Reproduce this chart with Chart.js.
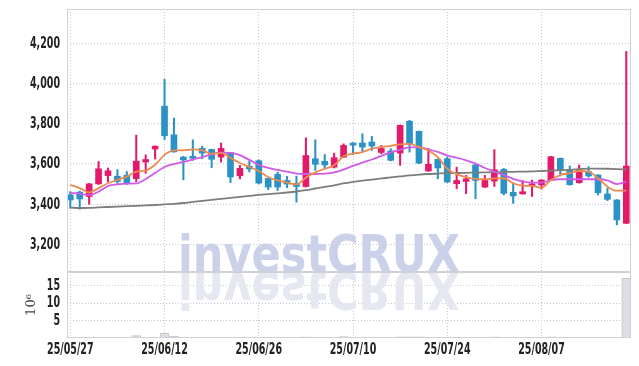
<!DOCTYPE html>
<html>
<head>
<meta charset="utf-8">
<script src="https://cdn.jsdelivr.net/npm/chart.js@4.4.1/dist/chart.umd.min.js"></script>
<style>
    html, body { margin: 0; padding: 0; background: #fff; }
    #wrap { position: relative; width: 639px; height: 366px; overflow: hidden; }
    canvas { position: absolute; left: 0; }
    #main { top: 0; width: 639px; height: 273px; }
    #vol { top: 272px; width: 639px; height: 94px; }
</style>
</head>
<body>
<div id="wrap">
    <canvas id="main" width="639" height="273"></canvas>
    <canvas id="vol" width="639" height="94"></canvas>
</div>
<script>
// 거래일 (25/05/27 ~ 25/08/21)
const dates = [
    '25/05/27','25/05/28','25/05/29','25/05/30','25/06/02','25/06/04','25/06/05','25/06/09','25/06/10','25/06/11',
    '25/06/12','25/06/13','25/06/16','25/06/17','25/06/18','25/06/19','25/06/20','25/06/23','25/06/24','25/06/25',
    '25/06/26','25/06/27','25/06/30','25/07/01','25/07/02','25/07/03','25/07/04','25/07/07','25/07/08','25/07/09',
    '25/07/10','25/07/11','25/07/14','25/07/15','25/07/16','25/07/17','25/07/18','25/07/21','25/07/22','25/07/23',
    '25/07/24','25/07/25','25/07/28','25/07/29','25/07/30','25/07/31','25/08/01','25/08/04','25/08/05','25/08/06',
    '25/08/07','25/08/08','25/08/11','25/08/12','25/08/13','25/08/14','25/08/18','25/08/19','25/08/20','25/08/21'
];

const opens = [
    3446, 3460, 3438, 3501, 3542, 3539, 3544, 3527, 3610, 3674,
    3887, 3745, 3634, 3638, 3677, 3672, 3634, 3656, 3541, 3588,
    3616, 3528, 3548, 3518, 3504, 3488, 3626, 3613, 3584, 3634,
    3704, 3704, 3709, 3657, 3664, 3654, 3812, 3762, 3565, 3623,
    3626, 3502, 3513, 3595, 3485, 3515, 3573, 3459, 3451, 3491,
    3496, 3520, 3628, 3570, 3507, 3562, 3545, 3451, 3421, 3305
];
const highs = [
    3463, 3465, 3503, 3612, 3580, 3572, 3562, 3743, 3645, 3690,
    4020, 3828, 3638, 3720, 3688, 3674, 3704, 3658, 3593, 3614,
    3620, 3530, 3560, 3538, 3540, 3730, 3720, 3647, 3654, 3700,
    3706, 3750, 3737, 3692, 3676, 3794, 3817, 3764, 3676, 3625,
    3635, 3584, 3543, 3601, 3543, 3671, 3578, 3507, 3517, 3520,
    3522, 3638, 3630, 3590, 3595, 3587, 3547, 3479, 3423, 4159
];
const lows = [
    3380, 3375, 3400, 3498, 3512, 3503, 3498, 3511, 3553, 3624,
    3721, 3658, 3521, 3618, 3626, 3581, 3609, 3507, 3526, 3560,
    3500, 3472, 3468, 3482, 3410, 3485, 3568, 3576, 3580, 3631,
    3647, 3659, 3667, 3651, 3615, 3593, 3659, 3601, 3563, 3526,
    3508, 3477, 3452, 3427, 3483, 3488, 3446, 3404, 3450, 3438,
    3476, 3518, 3540, 3494, 3504, 3534, 3446, 3418, 3297, 3303
];
const closes = [
    3421, 3426, 3501, 3576, 3566, 3513, 3503, 3614, 3622, 3688,
    3740, 3660, 3620, 3628, 3654, 3623, 3677, 3535, 3578, 3575,
    3505, 3485, 3485, 3500, 3488, 3642, 3598, 3595, 3631, 3692,
    3693, 3684, 3689, 3677, 3618, 3792, 3700, 3604, 3598, 3580,
    3510, 3518, 3526, 3518, 3518, 3571, 3454, 3441, 3462, 3501,
    3520, 3636, 3570, 3497, 3570, 3540, 3457, 3424, 3322, 3590
];

// 이동평균선
const ma5 = [
    3496, 3480, 3458, 3480, 3504, 3521, 3537, 3562, 3567, 3596,
    3645, 3667, 3668, 3672, 3668, 3650, 3655, 3630, 3605, 3585,
    3565, 3535, 3518, 3508, 3498, 3532, 3558, 3576, 3593, 3638,
    3651, 3659, 3676, 3684, 3690, 3697, 3700, 3684, 3667, 3634,
    3576, 3548, 3535, 3526, 3524, 3528, 3529, 3504, 3492, 3491,
    3482, 3520, 3545, 3554, 3565, 3562, 3529, 3487, 3467, 3467
];
const ma20 = [
    3456, 3452, 3445, 3462, 3490, 3498, 3502, 3503, 3525, 3555,
    3585, 3600, 3610, 3622, 3634, 3648, 3656, 3655, 3644, 3620,
    3595, 3580, 3570, 3562, 3552, 3550, 3550, 3552, 3558, 3572,
    3590, 3607, 3622, 3640, 3658, 3670, 3682, 3682, 3672, 3660,
    3642, 3631, 3618, 3602, 3580, 3562, 3545, 3526, 3513, 3507,
    3507, 3520, 3524, 3524, 3524, 3524, 3524, 3518, 3500, 3512
];
const ma120 = [
    3383, 3381, 3382, 3384, 3386, 3388, 3390, 3392, 3394, 3396,
    3399, 3402, 3406, 3411, 3416, 3421, 3426, 3431, 3436, 3441,
    3446, 3450, 3454, 3458, 3463, 3470, 3478, 3486, 3494, 3503,
    3511, 3517, 3522, 3528, 3533, 3538, 3543, 3547, 3550, 3552,
    3554, 3555, 3556, 3557, 3558, 3559, 3560, 3561, 3562, 3563,
    3565, 3567, 3569, 3571, 3574, 3577, 3577, 3576, 3574, 3573
];

// 거래량 (백만 주)
const volumes = [
    0.06, 0.05, 0.07, 0.08, 0.06, 0.05, 0.07, 0.7, 0.08, 0.1,
    1.4, 0.5, 0.08, 0.06, 0.07, 0.05, 0.06, 0.07, 0.05, 0.06,
    0.05, 0.06, 0.07, 0.08, 0.06, 0.3, 0.08, 0.06, 0.07, 0.4,
    0.08, 0.06, 0.07, 0.05, 0.06, 0.3, 0.35, 0.3, 0.07, 0.06,
    0.05, 0.06, 0.07, 0.06, 0.05, 0.3, 0.07, 0.06, 0.05, 0.06,
    0.07, 0.3, 0.06, 0.05, 0.07, 0.06, 0.05, 0.06, 0.08, 17.1
];

const priceTicks = [3200, 3400, 3600, 3800, 4000, 4200];
const volTicks = [5, 10, 15];
const dateTicks = [0, 10, 20, 30, 40, 50];

const UP = '#e3196c';
const DOWN = '#2a92c6';
const GRID = '#c3c7da';
const TICK_FONT = 'bold 15px "DejaVu Sans Condensed", "DejaVu Sans", sans-serif';
const DIGIT_W = 6.6;   // 눈금 숫자 폭(px)

const candleColor = ctx => closes[ctx.dataIndex] >= opens[ctx.dataIndex] ? UP : DOWN;

// 플롯 영역 테두리
const framePlugin = {
    id: 'frame',
    afterDraw(chart) {
        const a = chart.chartArea, g = chart.ctx;
        g.save();
        g.strokeStyle = '#cfd0d8';
        g.lineWidth = 1;
        g.strokeRect(Math.round(a.left) + 0.5, Math.round(a.top) + 0.5,
            Math.round(a.right - a.left) - 1, Math.round(a.bottom - a.top) - 1);
        g.restore();
    }
};

// 워터마크
const watermarkPlugin = {
    id: 'watermark',
    beforeDatasetsDraw(chart, args, opts) {
        const a = chart.chartArea, g = chart.ctx;
        g.save();
        g.font = 'bold 51px "DejaVu Sans", sans-serif';
        g.textBaseline = 'alphabetic';
        g.fillStyle = opts.color;
        if (opts.mirror) {
            g.translate(0, a.top);
            g.scale(1, -1);
            g.fillText('investCRUX', 178, 0, 282);
        } else {
            g.fillText('investCRUX', 178, a.bottom, 282);
        }
        g.restore();
    }
};

// 좁은 글꼴 흉내: 가로로 눌러서 눈금 글자 그리기
function narrowText(g, text, x, y, align) {
    g.save();
    g.font = TICK_FONT;
    const sx = DIGIT_W / g.measureText('0').width;
    g.translate(x, y);
    g.scale(sx, 1);
    g.textAlign = align;
    g.textBaseline = 'middle';
    g.fillStyle = '#222';
    g.fillText(text, 0, 0);
    g.restore();
}

const tickLabelPlugin = {
    id: 'tickLabels',
    afterDraw(chart, args, opts) {
        const g = chart.ctx, a = chart.chartArea;
        const ys = chart.scales.y;
        ys.ticks.forEach(t => {
            narrowText(g, opts.yFormat(t.value), a.left - 7, ys.getPixelForValue(t.value) + 0.5, 'right');
        });
        if (opts.showX) {
            const xs = chart.scales.x;
            xs.ticks.forEach(t => {
                narrowText(g, dates[t.value], xs.getPixelForValue(t.value), a.bottom + 12, 'center');
            });
        }
    }
};

function xAxis(height) {
    return {
        type: 'linear',
        min: -0.35,
        max: 59.5,
        offset: false,
        afterBuildTicks: s => { s.ticks = dateTicks.map(v => ({ value: v })); },
        ticks: { display: false },
        grid: { color: GRID, drawTicks: false, lineWidth: 1, offset: false },
        border: { display: false, dash: [1, 2] },
        afterFit: s => { s.height = height; s.paddingLeft = 0; s.paddingRight = 0; }
    };
}

function yAxisFit(s) {
    s.width = 67;
    s.paddingTop = 0;
    s.paddingBottom = 0;
}

Chart.defaults.animation = false;

new Chart(document.getElementById('main'), {
    type: 'bar',
    data: {
        datasets: [
            {
                type: 'line', label: 'MA5',
                data: ma5.map((v, i) => ({ x: i, y: v })),
                borderColor: '#ef8a4e', borderWidth: 1.8, pointRadius: 0,
                cubicInterpolationMode: 'monotone', order: 0
            },
            {
                type: 'line', label: 'MA20',
                data: ma20.map((v, i) => ({ x: i, y: v })),
                borderColor: '#cf5be6', borderWidth: 1.8, pointRadius: 0,
                cubicInterpolationMode: 'monotone', order: 0
            },
            {
                type: 'line', label: 'MA120',
                data: ma120.map((v, i) => ({ x: i, y: v })),
                borderColor: '#7d7d7d', borderWidth: 1.8, pointRadius: 0,
                cubicInterpolationMode: 'monotone', order: 0
            },
            {
                label: 'body',
                data: opens.map((o, i) => ({ x: i, y: [o, closes[i]] })),
                backgroundColor: candleColor,
                barThickness: 6, minBarLength: 1, grouped: false, order: 1
            },
            {
                label: 'wick',
                data: lows.map((l, i) => ({ x: i, y: [l, highs[i]] })),
                backgroundColor: candleColor,
                barThickness: 1.4, grouped: false, order: 2
            }
        ]
    },
    options: {
        responsive: false,
        devicePixelRatio: 1,
        layout: { padding: { top: 9, right: 8, bottom: 1, left: 0 } },
        plugins: {
            legend: { display: false },
            tooltip: { enabled: false },
            watermark: { color: '#cbd1e8', mirror: false },
            tickLabels: { showX: false, yFormat: v => v.toLocaleString('en-US') }
        },
        scales: {
            x: xAxis(0),
            y: {
                min: 3063,
                max: 4370,
                afterBuildTicks: s => { s.ticks = priceTicks.map(v => ({ value: v })); },
                ticks: { display: false },
                grid: { color: GRID, drawTicks: false, lineWidth: 1 },
                border: { display: false, dash: [1, 2] },
                afterFit: yAxisFit
            }
        }
    },
    plugins: [watermarkPlugin, framePlugin, tickLabelPlugin]
});

new Chart(document.getElementById('vol'), {
    type: 'bar',
    data: {
        datasets: [{
            label: 'volume',
            data: volumes.map((v, i) => ({ x: i, y: v })),
            backgroundColor: '#dcdce2',
            borderColor: '#c6c6ce',
            borderWidth: 1,
            barThickness: 9
        }]
    },
    options: {
        responsive: false,
        devicePixelRatio: 1,
        layout: { padding: { top: 0, right: 8, bottom: 0, left: 0 } },
        plugins: {
            legend: { display: false },
            tooltip: { enabled: false },
            watermark: { color: '#e6e8f1', mirror: true },
            tickLabels: { showX: true, yFormat: v => String(v) }
        },
        scales: {
            x: xAxis(28),
            y: {
                min: 0,
                max: 18.9,
                afterBuildTicks: s => { s.ticks = volTicks.map(v => ({ value: v })); },
                ticks: { display: false },
                title: {
                    display: true,
                    text: '10⁶',
                    color: '#444',
                    font: { family: '"DejaVu Serif", serif', size: 13 },
                    padding: { top: 24, bottom: 0 }
                },
                grid: { color: GRID, drawTicks: false, lineWidth: 1 },
                border: { display: false, dash: [1, 2] },
                afterFit: yAxisFit
            }
        }
    },
    plugins: [watermarkPlugin, framePlugin, tickLabelPlugin]
});
</script>
</body>
</html>
